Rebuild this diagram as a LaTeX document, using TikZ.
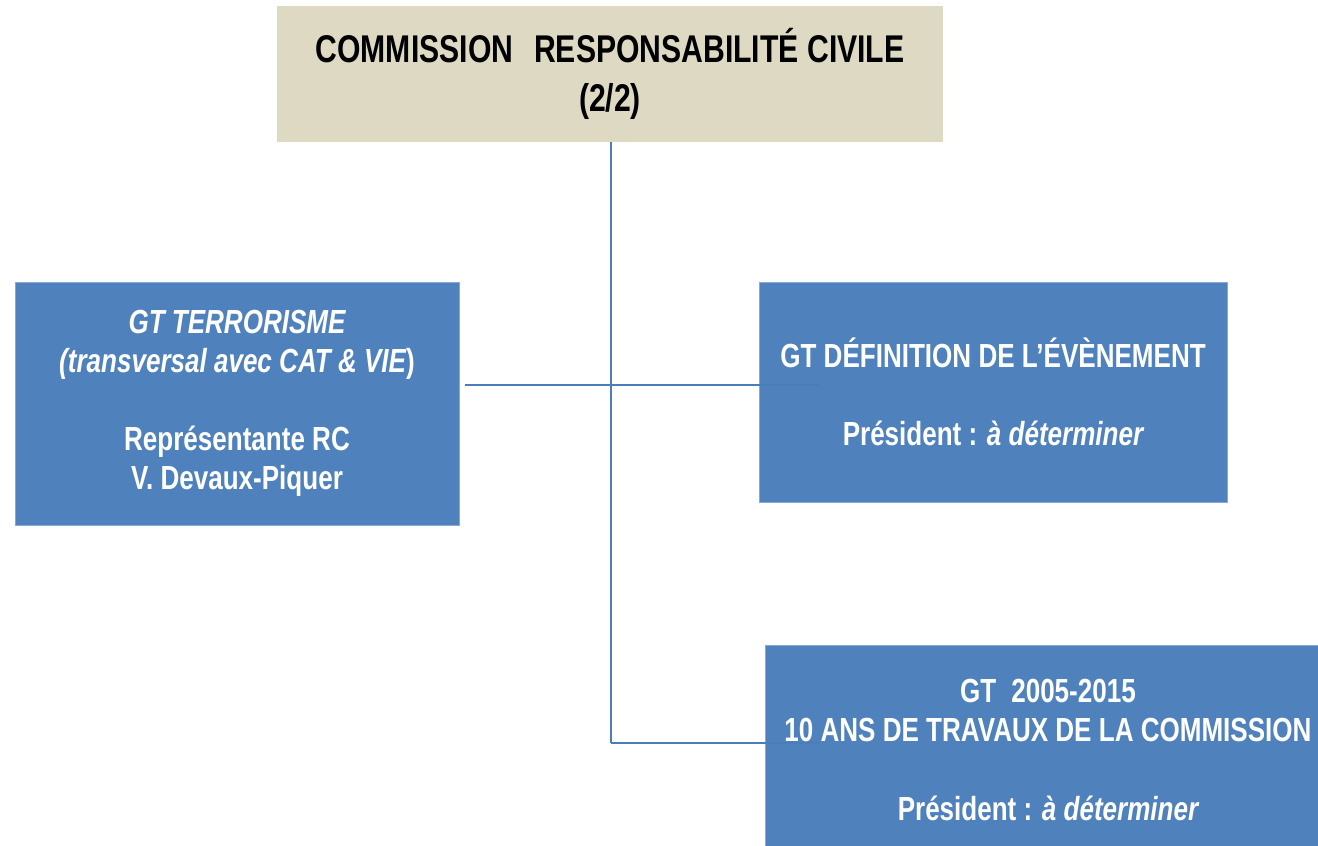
\documentclass[tikz,border=0pt]{standalone}
\usepackage{fontspec}
\setmainfont{Liberation Sans}[FakeStretch=0.78]
\usepackage{tikz}
\usetikzlibrary{calc,positioning}
\definecolor{boxBlue}{HTML}{4F81BD}
\definecolor{boxEdge}{HTML}{8AA8D4}
\definecolor{boxBeige}{HTML}{DDD9C3}
\definecolor{lineBlue}{HTML}{4A7EBB}

\begin{document}
\begin{tikzpicture}[
  x=0.02cm, y=-0.02cm,
  headbox/.style={fill=boxBeige, inner sep=0pt, align=center,
    font=\bfseries\fontsize{22}{27.8}\selectfont},
  gtbox/.style={fill=boxBlue, draw=boxEdge, line width=0.4pt, inner sep=0pt,
    align=center, text=white, font=\bfseries\fontsize{19}{22.2}\selectfont},
  link/.style={draw=lineBlue, line width=1.1pt},
]
\useasboundingbox (0, 0) rectangle (1318, 845);

% Commission (top)
\node[headbox, minimum width=13.32cm, minimum height=2.72cm] (commission) at (610, 74)
  {\rule{0pt}{8pt}COMMISSION\hspace{0.42cm}RESPONSABILITÉ CIVILE\\(2/2)};

% Working groups
\node[gtbox, minimum width=8.88cm, minimum height=4.86cm] (terrorisme) at (237, 403.5)
  {\itshape GT TERRORISME\\\itshape(transversal avec CAT \& VIE\upshape)\\[22.2pt]
   Représentante RC\\V. Devaux-Piquer};
\node[gtbox, minimum width=9.36cm, minimum height=4.4cm] (definition) at (993, 392)
  {GT DÉFINITION DE L’ÉVÈNEMENT\\[22.2pt]Président : \itshape à déterminer};
\node[gtbox, minimum width=11.32cm, minimum height=4.2cm] (travaux) at (1048, 750)
  {GT\hspace{0.3cm}2005-2015\\10 ANS DE TRAVAUX DE LA COMMISSION\\[22.2pt]
   Président : \itshape à déterminer};

% Connectors
\coordinate (hub) at (611, 385);
\coordinate (foot) at (611, 743);
\draw[link] (commission.south -| hub) -- (foot);
\draw[link] ([xshift=0.12cm]terrorisme.east |- hub) -- (hub)
  -- ([xshift=1.22cm]definition.west |- hub);
\draw[link] (foot) -- ([xshift=1.1cm]travaux.west |- foot);
\end{tikzpicture}
\end{document}
